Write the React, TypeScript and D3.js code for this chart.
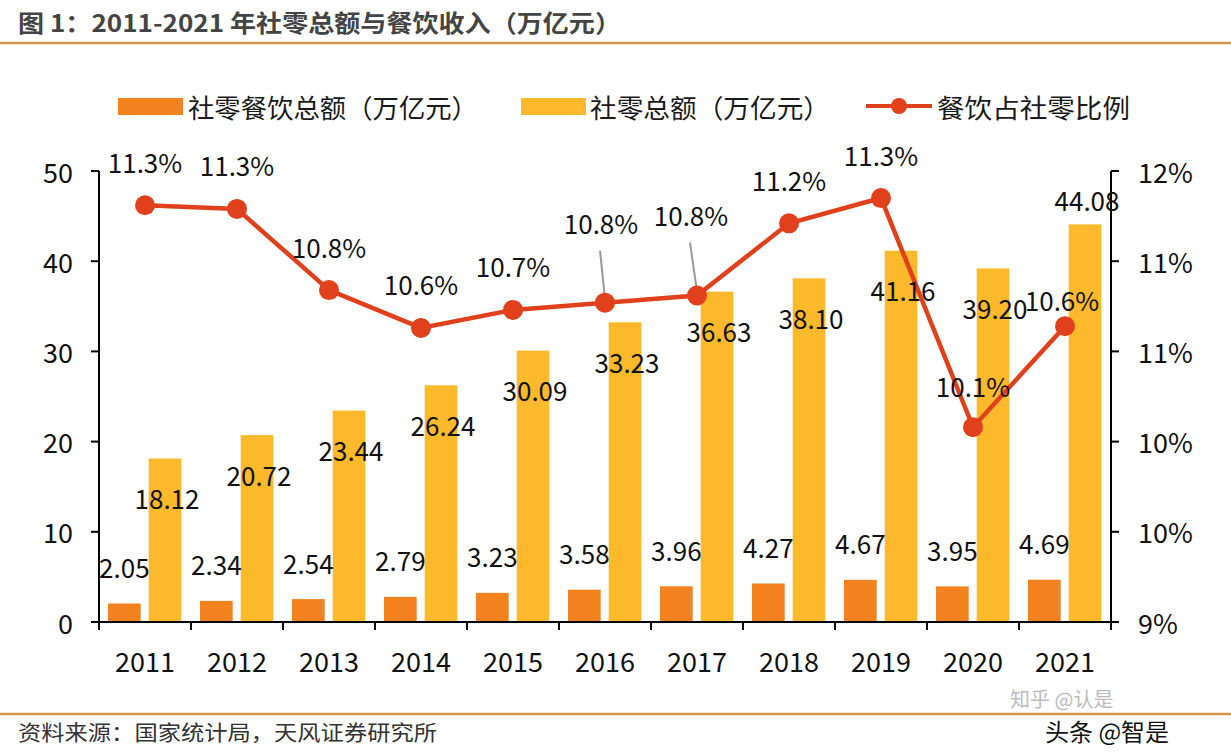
import React from "react";
import * as d3 from "d3";

const years = ["2011","2012","2013","2014","2015","2016","2017","2018","2019","2020","2021"];
const cateringSales = [2.05, 2.34, 2.54, 2.79, 3.23, 3.58, 3.96, 4.27, 4.67, 3.95, 4.69];
const retailSales = [18.12, 20.72, 23.44, 26.24, 30.09, 33.23, 36.63, 38.10, 41.16, 39.20, 44.08];
const cateringShare = [11.31, 11.29, 10.84, 10.63, 10.73, 10.77, 10.81, 11.21, 11.35, 10.08, 10.64];
const leftTicks = [0, 10, 20, 30, 40, 50];
const rightTicks = [9, 9.5, 10, 10.5, 11, 11.5];

const legendLabels = ["社零餐饮总额（万亿元）", "社零总额（万亿元）", "餐饮占社零比例"];
const titleText = "图 1：2011-2021 年社零总额与餐饮收入（万亿元）";
const sourceText = "资料来源：国家统计局，天风证券研究所";

// label placement tweaks (styling, not data)
const retailLabelAbove: Record<string, boolean> = { "2021": true };
const shareLabelShift: Record<string, [number, number]> = {
  "2016": [-4, -80],
  "2017": [-6, -81],
  "2021": [-3, -27],
  "2020": [0, -42],
};
const leaderYears = ["2016", "2017"];

const C_ORANGE = "#F3821F";
const C_YELLOW = "#FBB92B";
const C_RED = "#E0401C";
const FONT = "'Noto Sans CJK SC', 'Noto Sans', sans-serif";

export default function App() {
  const W = 1231, H = 755;
  const left = 99, right = 1111, top = 171, bottom = 622;
  const x = d3.scaleBand<string>().domain(years).range([left, right]).padding(0);
  const yL = d3.scaleLinear().domain([0, 50]).range([bottom, top]);
  const yR = d3.scaleLinear().domain([9, 11.5]).range([bottom, top]);
  const bw = x.bandwidth();
  const barW = bw * 0.355;
  const off1 = bw * 0.098;
  const off2 = off1 + barW + bw * 0.087;

  const linePts = years.map((yr, i) => [x(yr)! + bw / 2, yR(cateringShare[i])] as [number, number]);
  const lineGen = d3.line();
  const fmtPct = (v: number) => d3.format(".0f")(v) + "%";

  return (
    <svg width={W} height={H} style={{ display: "block", position: "absolute", left: 0, top: 0 }} fontFamily={FONT}>
      <rect width={W} height={H} fill="#fff" />
      <text x={18} y={32} fontSize={24} fontWeight="bold" fill="#444" textLength={603} lengthAdjust="spacingAndGlyphs">{titleText}</text>
      <line x1={0} x2={W} y1={43} y2={43} stroke="#D3944E" strokeWidth={2.5} />

      {/* legend */}
      <g fontSize={26} fill="#1a1a1a">
        <rect x={118} y={98} width={65} height={17} fill={C_ORANGE} />
        <text x={188} y={106} dominantBaseline="central" textLength={290} lengthAdjust="spacingAndGlyphs">{legendLabels[0]}</text>
        <rect x={521} y={98} width={65} height={17} fill={C_YELLOW} />
        <text x={590} y={106} dominantBaseline="central" textLength={240} lengthAdjust="spacingAndGlyphs">{legendLabels[1]}</text>
        <line x1={866} x2={932} y1={106} y2={106} stroke={C_RED} strokeWidth={4} />
        <circle cx={899} cy={106} r={8} fill={C_RED} />
        <text x={937} y={106} dominantBaseline="central" textLength={193} lengthAdjust="spacingAndGlyphs">{legendLabels[2]}</text>
      </g>

      {/* bars */}
      {years.map((yr, i) => (
        <g key={yr}>
          <rect x={x(yr)! + off1} y={yL(cateringSales[i])} width={barW} height={bottom - yL(cateringSales[i])} fill={C_ORANGE} />
          <rect x={x(yr)! + off2} y={yL(retailSales[i])} width={barW} height={bottom - yL(retailSales[i])} fill={C_YELLOW} />
        </g>
      ))}

      {/* axes */}
      <g stroke="#000" strokeWidth={2}>
        <line x1={left} x2={left} y1={top} y2={bottom} />
        <line x1={right} x2={right} y1={top} y2={bottom} />
        <line x1={left} x2={right} y1={bottom} y2={bottom} />
        {leftTicks.map(t => <line key={"l" + t} x1={left - 8} x2={left} y1={yL(t)} y2={yL(t)} />)}
        {rightTicks.map(t => <line key={"r" + t} x1={right} x2={right + 8} y1={yR(t)} y2={yR(t)} />)}
        {years.map(yr => <line key={"x" + yr} x1={x(yr)!} x2={x(yr)!} y1={bottom} y2={bottom + 8} />)}
        <line x1={right} x2={right} y1={bottom} y2={bottom + 8} />
      </g>
      <g fontSize={27} fill="#111">
        {leftTicks.map(t => (
          <text key={"lt" + t} x={left - 26} y={yL(t)} textAnchor="end" dominantBaseline="central">{t}</text>
        ))}
        {rightTicks.map(t => (
          <text key={"rt" + t} x={right + 27} y={yR(t)} textAnchor="start" dominantBaseline="central">{fmtPct(t)}</text>
        ))}
        {years.map(yr => (
          <text key={"xt" + yr} x={x(yr)! + bw / 2} y={bottom + 38} textAnchor="middle" dominantBaseline="central">{yr}</text>
        ))}
      </g>

      {/* leader lines */}
      {years.map((yr, i) => {
        if (!leaderYears.includes(yr)) return null;
        const s = shareLabelShift[yr];
        const [px, py] = linePts[i];
        return <line key={"ld" + yr} x1={px + s[0] - 1} y1={py + s[1] + 28} x2={px} y2={py - 4} stroke="#999" strokeWidth={2} />;
      })}

      {/* line */}
      <path d={lineGen(linePts) || ""} fill="none" stroke={C_RED} strokeWidth={4.5} />
      {linePts.map(([px, py], i) => <circle key={"c" + i} cx={px} cy={py} r={10} fill={C_RED} />)}

      {/* data labels */}
      <g fontSize={26} fill="#111" textAnchor="middle">
        {years.map((yr, i) => (
          <text key={"ol" + yr} x={x(yr)! + off1 + barW / 2} y={yL(cateringSales[i]) - 37} dominantBaseline="central">
            {cateringSales[i].toFixed(2)}
          </text>
        ))}
        {years.map((yr, i) => (
          <text key={"yl" + yr} x={x(yr)! + off2 + barW / 2 + 2}
            y={retailLabelAbove[yr] ? yL(retailSales[i]) - 25 : yL(retailSales[i]) + 39} dominantBaseline="central">
            {retailSales[i].toFixed(2)}
          </text>
        ))}
        {years.map((yr, i) => {
          const s = shareLabelShift[yr] || [0, -44];
          return (
            <text key={"sl" + yr} x={linePts[i][0] + s[0]} y={linePts[i][1] + s[1]} dominantBaseline="central">
              {cateringShare[i].toFixed(1) + "%"}
            </text>
          );
        })}
      </g>

      {/* footer */}
      <line x1={0} x2={W} y1={714} y2={714} stroke="#D3944E" strokeWidth={2.5} />
      <text x={18} y={740} fontSize={21} fill="#333" textLength={419} lengthAdjust="spacingAndGlyphs">{sourceText}</text>
      <text x={1010} y={707} fontSize={20} fill="#bbb" stroke="#fff" strokeWidth={3} paintOrder="stroke">知乎 @认是</text>
      <text x={1045} y={741} fontSize={24} fill="#111" stroke="#fff" strokeWidth={3} paintOrder="stroke">头条 @智是</text>
    </svg>
  );
}
